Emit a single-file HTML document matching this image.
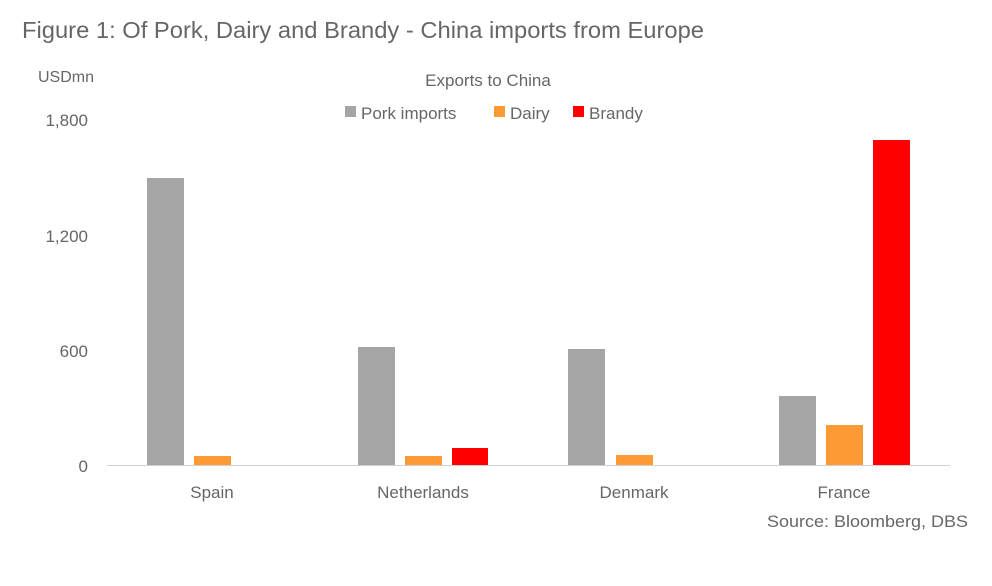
<!DOCTYPE html>
<html><head><meta charset="utf-8"><style>
body{margin:0;background:#fff;}
svg text{font-family:"Liberation Sans",sans-serif;fill:#666;}
</style></head><body>
<svg width="992" height="581" xmlns="http://www.w3.org/2000/svg">
<rect width="992" height="581" fill="#fff"/>
<text x="22" y="38" font-size="23" fill="#606060" textLength="682" lengthAdjust="spacingAndGlyphs">Figure 1: Of Pork, Dairy and Brandy - China imports from Europe</text>
<text x="38" y="82" font-size="16">USDmn</text>
<text x="488" y="86" font-size="17" text-anchor="middle">Exports to China</text>
<rect x="345" y="106" width="11" height="11" fill="#a5a5a5"/>
<text x="361" y="119" font-size="17">Pork imports</text>
<rect x="494" y="106" width="11" height="11" fill="#fd9a36"/>
<text x="510" y="119" font-size="17">Dairy</text>
<rect x="573" y="106" width="11" height="11" fill="#fe0000"/>
<text x="589" y="119" font-size="17">Brandy</text>
<g font-size="17" text-anchor="end">
<text x="88" y="126">1,800</text>
<text x="88" y="242">1,200</text>
<text x="88" y="357">600</text>
<text x="88" y="472">0</text>
</g>
<g fill="#a5a5a5">
<rect x="147" y="178" width="37" height="287"/>
<rect x="358" y="347" width="37" height="118"/>
<rect x="568" y="349" width="37" height="116"/>
<rect x="779" y="396" width="37" height="69"/>
</g>
<g fill="#fd9a36">
<rect x="194" y="456" width="37" height="9"/>
<rect x="405" y="456" width="37" height="9"/>
<rect x="616" y="455" width="37" height="10"/>
<rect x="826" y="425" width="37" height="40"/>
</g>
<g fill="#fe0000">
<rect x="452" y="448" width="36" height="17"/>
<rect x="873" y="140" width="37" height="325"/>
</g>
<line x1="107" y1="465.5" x2="950" y2="465.5" stroke="#d0d0d0" stroke-width="1"/>
<g font-size="17" text-anchor="middle">
<text x="212" y="498">Spain</text>
<text x="423" y="498">Netherlands</text>
<text x="634" y="498">Denmark</text>
<text x="844" y="498">France</text>
</g>
<text x="767" y="527" font-size="17" fill="#888" textLength="201" lengthAdjust="spacingAndGlyphs">Source: Bloomberg, DBS</text>
</svg>
</body></html>
